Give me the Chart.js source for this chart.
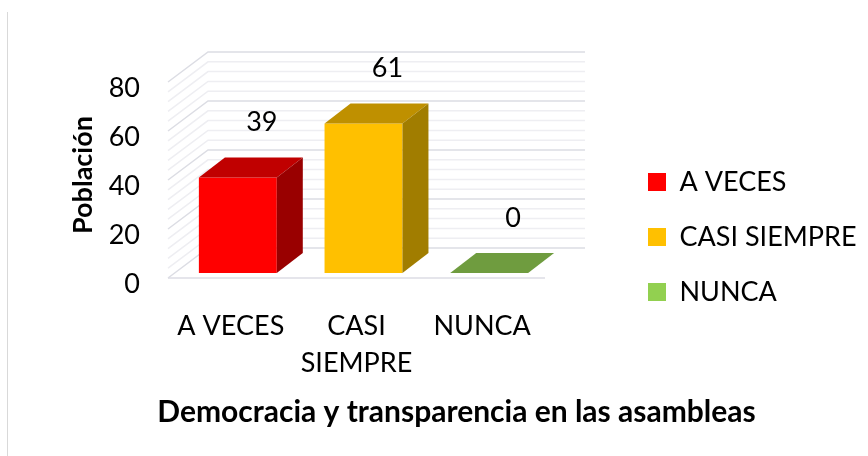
<!DOCTYPE html>
<html>
<head>
<meta charset="utf-8">
<script src="https://cdn.jsdelivr.net/npm/chart.js@4.4.0/dist/chart.umd.min.js"></script>
<style>
html, body { margin: 0; padding: 0; background: #fff; }
#wrap { position: relative; width: 868px; height: 456px; }
</style>
</head>
<body>
<div id="wrap"><canvas id="myChart" width="868" height="456"></canvas></div>
<script>
// data
const categories = ['A VECES', 'CASI SIEMPRE', 'NUNCA'];
const tickLabels = [['A VECES'], ['CASI', 'SIEMPRE'], ['NUNCA']];
const poblacion = [39, 61, 0];
const yTicks = [0, 20, 40, 60, 80];

// colours (front / top / side faces)
const frontColors = ['#ff0000', '#ffc000', '#92d050'];
const topColors = ['#c00000', '#bf9000', '#6f9c3f'];
const sideColors = ['#990000', '#a17d00', '#5b8232'];

const FONT = 'Lato, "Open Sans", sans-serif';

// 3d look: walls and floor around the bars
const box3d = {
    id: 'box3d',
    beforeDraw(chart) {
        const ctx = chart.ctx;
        ctx.save();
        ctx.strokeStyle = '#d9d9d9';
        ctx.lineWidth = 1;
        ctx.beginPath();
        ctx.moveTo(7.5, 12);
        ctx.lineTo(7.5, chart.height);
        ctx.stroke();
        ctx.restore();
    },
    beforeDatasetsDraw(chart) {
        const ctx = chart.ctx;
        const y = chart.scales.y;
        const area = chart.chartArea;
        const fl = area.left - 7, fr = area.right - 7;
        ctx.save();
        ctx.lineWidth = 1.5;
        for (let v = 0; v <= 80; v += 4) {
            const py = y.getPixelForValue(v);
            ctx.strokeStyle = v % 20 === 0 ? '#dcdde4' : '#eeeef2';
            ctx.beginPath();
            ctx.moveTo(fl, py + 5);
            ctx.lineTo(fl + 40, py - 25);
            ctx.lineTo(fr + 40, py - 25);
            ctx.stroke();
        }
        // front edge of the floor
        const y0 = y.getPixelForValue(0);
        ctx.strokeStyle = '#dcdde4';
        ctx.beginPath();
        ctx.moveTo(fl, y0 + 5);
        ctx.lineTo(fr, y0 + 5);
        ctx.stroke();
        ctx.restore();
    },
    afterDatasetsDraw(chart) {
        const ctx = chart.ctx;
        const dx = 26, dy = -20;
        const meta = chart.getDatasetMeta(0);
        ctx.save();
        meta.data.forEach((bar, i) => {
            const l = bar.x - bar.width / 2, r = bar.x + bar.width / 2;
            const t = bar.y, b = bar.base;
            ctx.fillStyle = topColors[i];
            ctx.beginPath();
            ctx.moveTo(l, t);
            ctx.lineTo(r, t);
            ctx.lineTo(r + dx, t + dy);
            ctx.lineTo(l + dx, t + dy);
            ctx.closePath();
            ctx.fill();
            if (b - t > 0.5) {
                ctx.fillStyle = sideColors[i];
                ctx.beginPath();
                ctx.moveTo(r, t);
                ctx.lineTo(r + dx, t + dy);
                ctx.lineTo(r + dx, b + dy);
                ctx.lineTo(r, b);
                ctx.closePath();
                ctx.fill();
            }
            // value label
            ctx.fillStyle = '#000';
            ctx.font = '27px ' + FONT;
            ctx.textAlign = 'center';
            ctx.textBaseline = 'middle';
            ctx.fillText(String(poblacion[i]), bar.x + 24, t - 55);
        });
        ctx.restore();
    }
};

const ctx = document.getElementById('myChart').getContext('2d');
const myChart = new Chart(ctx, {
    type: 'bar',
    data: {
        labels: categories,
        datasets: [{
            label: 'Población',
            data: poblacion,
            xAxisID: 'x',
            yAxisID: 'y',
            backgroundColor: frontColors,
            borderWidth: 0,
            barPercentage: 0.62,
            categoryPercentage: 1
        }]
    },
    plugins: [box3d],
    options: {
        responsive: false,
        animation: false,
        layout: { padding: { left: 57, right: 12, top: 18, bottom: 0 } },
        plugins: {
            tooltip: { enabled: false },
            legend: {
                position: 'right',
                maxWidth: 236,
                labels: {
                    boxWidth: 18,
                    boxHeight: 18,
                    padding: 28,
                    color: '#000',
                    font: { family: FONT, size: 27 },
                    generateLabels: () => categories.map((c, i) => ({
                        text: c,
                        fillStyle: frontColors[i],
                        strokeStyle: frontColors[i],
                        lineWidth: 0,
                        index: i
                    }))
                }
            },
            title: {
                display: true,
                position: 'bottom',
                text: 'Democracia y transparencia en las asambleas',
                color: '#000',
                font: { family: FONT, size: 30, weight: 'bold' },
                padding: { top: 11, bottom: 26 }
            }
        },
        scales: {
            x: {
                grid: { display: false, drawTicks: false },
                border: { display: false },
                ticks: {
                    color: '#000',
                    padding: 35,
                    labelOffset: -7,
                    maxRotation: 0,
                    font: { family: FONT, size: 27, lineHeight: 1.37 },
                    callback: (v, i) => tickLabels[i]
                },
                afterFit: s => { s.height = 110; }
            },
            xt: {
                type: 'linear',
                position: 'top',
                grid: { display: false },
                border: { display: false },
                ticks: { display: false },
                afterFit: s => { s.height = 59; }
            },
            y: {
                min: 0,
                max: 80,
                grid: { display: false, drawTicks: false },
                border: { display: false },
                afterBuildTicks: s => { s.ticks = yTicks.map(v => ({ value: v })); },
                ticks: {
                    color: '#000',
                    padding: 35,
                    labelOffset: 11,
                    font: { family: FONT, size: 27 }
                },
                title: {
                    display: true,
                    text: 'Población',
                    color: '#000',
                    font: { family: FONT, size: 27, weight: 'bold' },
                    padding: { top: 10, bottom: 0 }
                },
                afterFit: s => { s.width = 118; }
            },
            yr: {
                position: 'right',
                min: 0,
                max: 80,
                grid: { display: false },
                border: { display: false },
                ticks: { display: false },
                afterFit: s => { s.width = 68; }
            }
        }
    }
});
</script>
</body>
</html>
